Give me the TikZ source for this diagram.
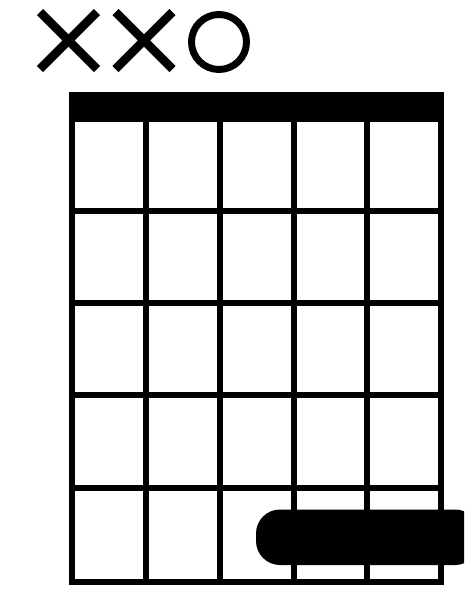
\documentclass[tikz,border=0pt]{standalone}
\begin{document}
\begin{tikzpicture}[x=1pt,y=-1pt,
  gridline/.style={line width=6pt},
  markline/.style={line width=8.5pt},
  barre/.style={fill=black,rounded corners=24pt}]
\useasboundingbox (0,0) rectangle (464,600);
\clip (0,0) rectangle (464,600);
% muted / open markers
\draw[markline] (40,12) -- (97,69) (40,69) -- (97,12);
\draw[markline] (115.5,12) -- (172.5,69) (115.5,69) -- (172.5,12);
\draw[line width=7pt] (219,42) circle[radius=27.5];
% nut
\fill (69,92) rectangle (444,121.5);
% strings
\foreach \x in {72.2,146,219.8,293.5,367.3,441}
  \draw[gridline] (\x,92) -- (\x,584.5);
% frets
\foreach \y in {211,302.5,394.5,488,581.5}
  \draw[gridline] (69,\y) -- (444,\y);
% barre
\fill[barre] (256,509.5) rectangle (479,565);
\end{tikzpicture}
\end{document}
